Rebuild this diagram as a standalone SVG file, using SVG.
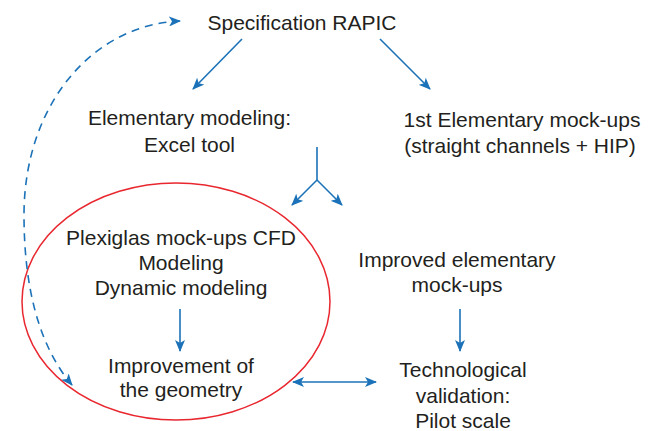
<svg xmlns="http://www.w3.org/2000/svg" width="659" height="431" viewBox="0 0 659 431">
<defs>
<style>
text{font-family:"Liberation Sans",Arial,Helvetica,sans-serif;font-size:21px;fill:#231f20;text-anchor:middle}
.c{fill:none;stroke:#1b72b8;stroke-width:1.6}
.d{stroke-dasharray:8 6}
</style>
<marker id="ah" viewBox="0 0 12 10" refX="11" refY="5" markerWidth="12" markerHeight="10" markerUnits="userSpaceOnUse" orient="auto-start-reverse">
<path d="M0,0 L12,5 L0,10 L3,5 z" fill="#1b72b8"/>
</marker>
</defs>
<rect width="659" height="431" fill="#fff"/>
<g id="n-ellipse"><ellipse cx="176" cy="301.5" rx="154" ry="118.5" fill="none" stroke="#e8272f" stroke-width="1.5"/></g>
<g id="n-spec"><text x="302" y="30">Specification RAPIC</text></g>
<g id="n-elem"><text x="189.5" y="125">Elementary modeling:</text><text x="189.5" y="152">Excel tool</text></g>
<g id="n-first"><text x="522" y="127">1st Elementary mock-ups</text><text x="520" y="153">(straight channels + HIP)</text></g>
<g id="n-plexi"><text x="181" y="245">Plexiglas mock-ups CFD</text><text x="181" y="270">Modeling</text><text x="181" y="295">Dynamic modeling</text></g>
<g id="n-improved"><text x="457" y="267">Improved elementary</text><text x="457" y="292">mock-ups</text></g>
<g id="n-geom"><text x="181" y="373">Improvement of</text><text x="181" y="397">the geometry</text></g>
<g id="n-tech"><text x="463" y="377">Technological</text><text x="463" y="403">validation:</text><text x="463" y="428">Pilot scale</text></g>
<g id="connectors">
<path class="c" d="M242,39 L193,89" marker-end="url(#ah)"/>
<path class="c" d="M380,39 L430,89" marker-end="url(#ah)"/>
<path class="c" d="M317,147 L317,180"/>
<path class="c" d="M317,180 L292,205" marker-end="url(#ah)"/>
<path class="c" d="M317,180 L342,205" marker-end="url(#ah)"/>
<path class="c" d="M180,309 L180,351" marker-end="url(#ah)"/>
<path class="c" d="M460,309 L460,351" marker-end="url(#ah)"/>
<path class="c" d="M293,382 L376,382" marker-start="url(#ah)" marker-end="url(#ah)"/>
<path class="c d" d="M72,385 C38,345 24,285 24,215 C24,105 92,25 180,21" marker-start="url(#ah)" marker-end="url(#ah)"/>
</g>
</svg>
